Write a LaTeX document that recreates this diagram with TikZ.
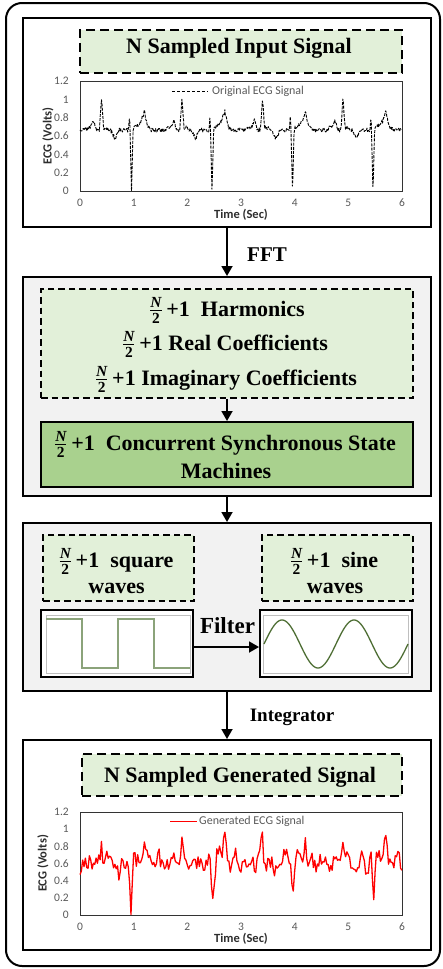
\documentclass[tikz,border=0pt]{standalone}
\usepackage{fontspec}
\usepackage{amsmath}
\setmainfont{Liberation Serif}
\newfontfamily\calfont{Carlito}
\usetikzlibrary{arrows.meta}
\definecolor{lg}{HTML}{E2F0D9}
\definecolor{dg}{HTML}{A9D18E}
\definecolor{pg}{HTML}{F2F2F2}
\definecolor{sqc}{HTML}{8BA37A}
\definecolor{snc}{HTML}{4F6F35}
\definecolor{tick}{HTML}{595959}
\newcommand\hf{$\frac{\text{\bfseries\itshape N}}{\text{\bfseries 2}}$}
\begin{document}
\begin{tikzpicture}[x=1pt,y=-1pt,
  panel/.style={draw, line width=2pt, inner sep=0pt},
  gpanel/.style={panel, fill=pg},
  dbox/.style={draw, fill=lg, line width=1.4pt, dash pattern=on 6.5pt off 4pt, inner sep=0pt},
  tbox/.style={draw, fill=lg, line width=2.6pt, dash pattern=on 9pt off 5pt, inner sep=0pt},
  sbox/.style={draw, fill=dg, line width=2pt, inner sep=0pt},
  wbox/.style={draw, fill=white, line width=2pt, inner sep=0pt},
  big/.style={font=\fontsize{22}{26}\selectfont\bfseries, inner sep=0pt, anchor=base},
  arr/.style={line width=1.8pt, -{Triangle[length=10pt,width=11pt]}},
  tickl/.style={font=\calfont\fontsize{11.5}{12}\selectfont, text=tick, inner sep=0pt},
  axl/.style={font=\calfont\bfseries\fontsize{12.5}{13}\selectfont, text=tick!50!black, inner sep=0pt},
  legl/.style={font=\calfont\fontsize{12}{13}\selectfont, text=tick, inner sep=0pt, anchor=west},
  declare function={
    tri(\t,\c,\w)=max(0,1-abs(\t-\c)/\w);
    ecgp(\s)=0.665 + 0.04*tri(\s,0.2,0.12) + 0.08*tri(\s,0.25,0.05) + 0.34*tri(\s,0.40,0.04)
      + 0.03*tri(\s,0.47,0.1) - 0.09*tri(\s,0.65,0.08) + 0.14*tri(\s,0.92,0.02)
      - 0.665*tri(\s,0.96,0.03) + 0.1*tri(\s,1.15,0.18) + 0.13*tri(\s,1.2,0.06);
    ecg(\t)=max(0,ecgp(mod(\t,1.5)) + 0.022*rand);
    redb(\t)=0.62 - 0.17*tri(\t,0,0.06) + 0.25*tri(\t,0.4,0.04) - 0.12*tri(\t,0.72,0.12)
      - 0.64*tri(\t,0.95,0.04) + 0.32*tri(\t,1.2,0.05) + 0.08*tri(\t,1.1,0.1)
      + 0.28*tri(\t,1.9,0.05) - 0.06*tri(\t,2.15,0.1) - 0.45*tri(\t,2.475,0.06)
      + 0.12*tri(\t,2.6,0.12) + 0.32*tri(\t,2.7,0.05) + 0.26*tri(\t,3.4,0.05)
      - 0.13*tri(\t,3.65,0.12) - 0.42*tri(\t,3.975,0.05) + 0.12*tri(\t,4.1,0.12)
      + 0.32*tri(\t,4.2,0.05) + 0.26*tri(\t,4.9,0.05) - 0.1*tri(\t,5.15,0.1)
      - 0.4*tri(\t,5.475,0.05) + 0.12*tri(\t,5.6,0.12) + 0.31*tri(\t,5.7,0.05);
    redn(\t)=max(0,redb(\t)+0.09*rand+0.05*sin(\t*1530)+0.04*sin(\t*2270+40));
  }]
\useasboundingbox (0,0) rectangle (443,969);
\draw[line width=2pt, rounded corners=16pt] (6,3) rectangle (440,966);

% ---------- panel 1
\node[panel, minimum width=408pt, minimum height=209pt] (p1) at (227,122.5) {};
\node[tbox, minimum width=322pt, minimum height=43pt] (title1) at (241,51.5) {};
\node[big] (title1t) at (239,53) {N Sampled Input Signal};
\begin{scope}[shift={(80,191)}, x=53.667pt, y=91.67pt]
  \draw[line width=0.7pt, draw=black!80] (0,0) rectangle (6,1.2);
  \foreach \v [count=\i] in {0,0.2,0.4,0.6,0.8,1,1.2}
    \node[tickl, anchor=east] (ya\i) at ([xshift=-11pt]0,\v) {\v};
  \foreach \t in {0,...,6}
    \node[tickl] (xa\t) at ([yshift=-12pt]\t,0) {\t};
  \node[axl] (xla) at ([yshift=-24pt]3,0) {Time (Sec)};
  \node[axl, rotate=90] (yla) at ([xshift=-32pt]0,0.6) {ECG (Volts)};
  \pgfmathsetseed{11}
  \draw[line width=0.9pt, dash pattern=on 3pt off 1.2pt, line join=round]
    plot[domain=0:6, samples=601] (\x, {ecg(\x)});
\end{scope}
\draw[line width=1pt, dash pattern=on 3pt off 2pt] (172,91) -- (208,91);
\node[legl] (lega) at (212,91) {Original ECG Signal};

% ---------- arrow FFT
\node[gpanel, minimum width=408pt, minimum height=219pt] (p2) at (227,386.5) {};
\draw[arr] (p1.south) -- (p2.north);
\node[big, font=\fontsize{21}{24}\selectfont\bfseries] (fft) at (267,261) {FFT};

% ---------- panel 2
\node[dbox, minimum width=372pt, minimum height=109pt] (coef) at (227,343.5) {};
\node[big] (c1) at (227,316) {\hf\,+1\enspace Harmonics};
\node[big] (c2) at (225,350) {\hf\,+1 Real Coefficients};
\node[big] (c3) at (226,385) {\hf\,+1 Imaginary Coefficients};
\node[sbox, minimum width=372pt, minimum height=65pt] (fsm) at (227,454.5) {};
\node[big] (f1) at (225,450) {\hf\,+1\enspace Concurrent Synchronous State};
\node[big] (f2) at (226,478) {Machines};
\draw[arr] (coef.south) -- (fsm.north);

% ---------- panel 3
\node[gpanel, minimum width=408pt, minimum height=168pt] (p3) at (227,607) {};
\draw[arr] (p2.south) -- (p3.north);
\node[dbox, minimum width=151pt, minimum height=66pt] (sqt) at (118.5,568) {};
\node[big] (sq1) at (116,567) {\hf\,+1\enspace square};
\node[big] (sq2) at (116.5,593) {waves};
\node[dbox, minimum width=151pt, minimum height=66pt] (snt) at (337.5,568) {};
\node[big] (sn1) at (334,567) {\hf\,+1\enspace sine};
\node[big] (sn2) at (335,593) {waves};
\node[wbox, minimum width=152pt, minimum height=67pt] (sq) at (117,643.5) {};
\node[wbox, minimum width=152pt, minimum height=67pt] (sn) at (336,643.5) {};
\draw[black!25, line width=0.9pt] (46,615) rectangle (190,673);
\draw[black!25, line width=0.9pt] (263,615) rectangle (408,673);
\draw[sqc, line width=1.6pt] (46,619) -- (82,619) -- (82,668) -- (118,668) -- (118,619)
  -- (154,619) -- (154,668) -- (190,668);
\draw[snc, line width=1.3pt] plot[domain=264:408, samples=145] (\x, {644 - 24*sin((\x-264)*5)});
\draw[arr] ([yshift=-3.5pt]sq.east) -- ([yshift=-3.5pt]sn.west);
\node[big, font=\fontsize{23}{26}\selectfont\bfseries] (filt) at (227.5,633) {Filter};

% ---------- panel 4
\node[panel, minimum width=408pt, minimum height=210pt] (p4) at (227,845) {};
\draw[arr] (p3.south) -- (p4.north);
\node[big, font=\fontsize{19}{22}\selectfont\bfseries] (integ) at (292,721) {Integrator};
\node[tbox, minimum width=320pt, minimum height=42pt] (title4) at (242,775) {};
\node[big] (title4t) at (240,782) {N Sampled Generated Signal};
\begin{scope}[shift={(80,915)}, x=53.667pt, y=85.83pt]
  \draw[line width=0.7pt, draw=black!80] (0,0) rectangle (6,1.2);
  \foreach \v [count=\i] in {0,0.2,0.4,0.6,0.8,1,1.2}
    \node[tickl, anchor=east] (yb\i) at ([xshift=-11pt]0,\v) {\v};
  \foreach \t in {0,...,6}
    \node[tickl] (xb\t) at ([yshift=-12pt]\t,0) {\t};
  \node[axl] (xlb) at ([yshift=-24pt]3,0) {Time (Sec)};
  \node[axl, rotate=90] (ylb) at ([xshift=-37pt]0,0.6) {ECG (Volts)};
  \pgfmathsetseed{5}
  \draw[red, line width=1.3pt, line join=round]
    plot[domain=0:6, samples=241] (\x, {redn(\x)});
\end{scope}
\draw[red, line width=1pt] (170,821) -- (197,821);
\node[legl] (legb) at (199,821) {Generated ECG Signal};
\end{tikzpicture}
\end{document}
